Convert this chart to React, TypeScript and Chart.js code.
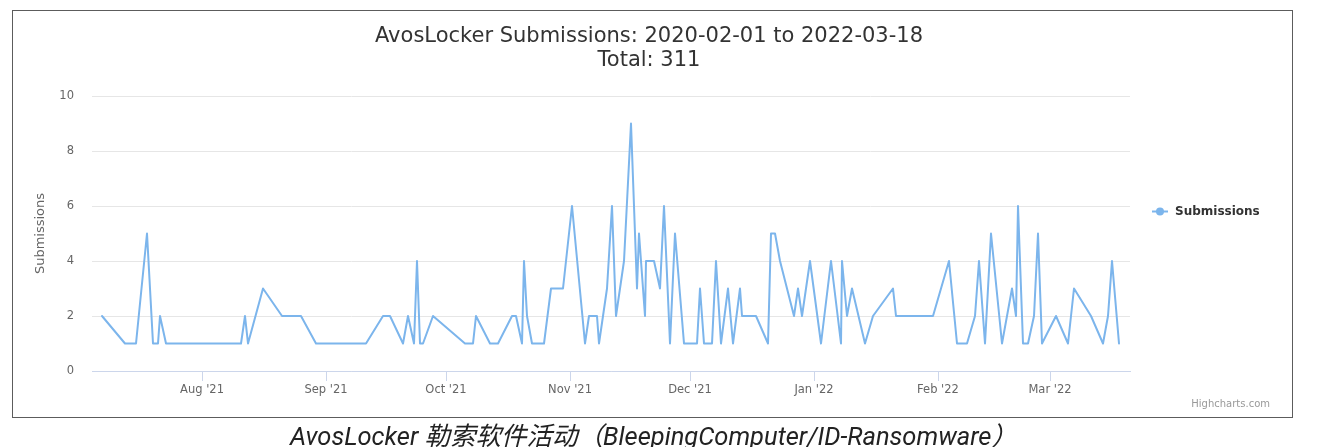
import { useEffect, useRef } from "react";
import { Chart, registerables } from "chart.js";

Chart.register(...registerables);

const TITLE_LINES = ["AvosLocker Submissions: 2020-02-01 to 2022-03-18", "Total: 311"];
const SERIES_NAME = "Submissions";
const Y_TITLE = "Submissions";
const CREDITS = "Highcharts.com";
const CAPTION = "AvosLocker 勒索软件活动（BleepingComputer/ID-Ransomware）";

// Submission timestamps (UTC, "YYYY-MM-DDTHH")
const dates = [
  "2021-07-07T00", "2021-07-12T18", "2021-07-15T12", "2021-07-18T06", "2021-07-19T18", "2021-07-21T00", "2021-07-21T12", "2021-07-23T00",
  "2021-08-10T18", "2021-08-11T18", "2021-08-12T12", "2021-08-16T06", "2021-08-21T00", "2021-08-25T18", "2021-08-29T12",
  "2021-09-11T00", "2021-09-15T06", "2021-09-17T00", "2021-09-20T06", "2021-09-21T12", "2021-09-23T00", "2021-09-23T18", "2021-09-24T12", "2021-09-25T06", "2021-09-27T18",
  "2021-10-05T18", "2021-10-07T18", "2021-10-08T12", "2021-10-12T00", "2021-10-14T00", "2021-10-17T12", "2021-10-18T12", "2021-10-20T00", "2021-10-20T12", "2021-10-21T06", "2021-10-22T12", "2021-10-25T12", "2021-10-27T06", "2021-10-30T06",
  "2021-11-01T12", "2021-11-04T18", "2021-11-05T18", "2021-11-07T18", "2021-11-08T06", "2021-11-10T06", "2021-11-11T12", "2021-11-12T12", "2021-11-14T12", "2021-11-16T06", "2021-11-17T18", "2021-11-18T06", "2021-11-19T18", "2021-11-20T00", "2021-11-22T00", "2021-11-23T12", "2021-11-24T12", "2021-11-26T00", "2021-11-27T06", "2021-11-29T12",
  "2021-12-02T18", "2021-12-03T12", "2021-12-04T12", "2021-12-06T12", "2021-12-07T12", "2021-12-08T18", "2021-12-10T12", "2021-12-11T18", "2021-12-13T12", "2021-12-14T00", "2021-12-17T12", "2021-12-20T12", "2021-12-21T06", "2021-12-22T06", "2021-12-23T12", "2021-12-27T00", "2021-12-28T00", "2021-12-29T00", "2021-12-31T00",
  "2022-01-02T18", "2022-01-05T06", "2022-01-07T18", "2022-01-08T00", "2022-01-09T06", "2022-01-10T12", "2022-01-13T18", "2022-01-15T18", "2022-01-20T18", "2022-01-21T12", "2022-01-30T18",
  "2022-02-03T18", "2022-02-05T18", "2022-02-08T06", "2022-02-10T06", "2022-02-11T06", "2022-02-12T18", "2022-02-14T06", "2022-02-17T00", "2022-02-19T12", "2022-02-20T12", "2022-02-21T00", "2022-02-22T06", "2022-02-23T12", "2022-02-25T00", "2022-02-26T00", "2022-02-27T00",
  "2022-03-02T12", "2022-03-05T12", "2022-03-07T00", "2022-03-11T06", "2022-03-14T06", "2022-03-15T12", "2022-03-16T12", "2022-03-18T06",
];

const submissions = [
  2, 1, 1, 5, 1, 1, 2, 1,
  1, 2, 1, 3, 2, 2, 1,
  1, 2, 2, 1, 2, 1, 4, 1, 1, 2,
  1, 1, 2, 1, 1, 2, 2, 1, 4, 2, 1, 1, 3, 3,
  6, 1, 2, 2, 1, 3, 6, 2, 4, 9, 3, 5, 2, 4, 4, 3, 6, 1, 5, 1,
  1, 3, 1, 1, 4, 1, 3, 1, 3, 2, 2, 1, 5, 5, 4, 2, 3, 2, 4,
  1, 4, 1, 4, 2, 3, 1, 2, 3, 2, 2,
  4, 1, 1, 2, 4, 1, 5, 1, 3, 2, 6, 1, 1, 2, 5, 1,
  2, 1, 3, 2, 1, 2, 4, 1,
];

const xTickMonths = ["2021-08-01T00", "2021-09-01T00", "2021-10-01T00", "2021-11-01T00", "2021-12-01T00", "2022-01-01T00", "2022-02-01T00", "2022-03-01T00"];
const MONTH_NAMES = ["Jan", "Feb", "Mar", "Apr", "May", "Jun", "Jul", "Aug", "Sep", "Oct", "Nov", "Dec"];
const X_MIN = "2021-07-04T12";
const X_MAX = "2022-03-21T00";
const yTicks = [0, 2, 4, 6, 8, 10];

const FONT = "'DejaVu Sans', sans-serif";

const toTime = (s: string) => Date.parse(s + ":00:00Z");
const fmtMonth = (v: number) => {
  const d = new Date(v);
  return MONTH_NAMES[d.getUTCMonth()] + " '" + String(d.getUTCFullYear()).slice(2);
};

const overlayPlugin = {
  id: "overlay",
  afterDraw(chart: any) {
    const { ctx, chartArea } = chart;
    ctx.save();
    // chart border box
    ctx.strokeStyle = "#5c5c5c";
    ctx.lineWidth = 1;
    ctx.strokeRect(12.5, 10.5, 1280, 407);

    // title
    ctx.fillStyle = "#333333";
    ctx.font = "21px " + FONT;
    ctx.textAlign = "center";
    ctx.textBaseline = "alphabetic";
    ctx.fillText(TITLE_LINES[0], 649, 42);
    ctx.fillText(TITLE_LINES[1], 649, 66);

    // legend
    const lx = chartArea.right + 22;
    const ly = 211.5;
    ctx.strokeStyle = "#7cb5ec";
    ctx.lineWidth = 2;
    ctx.beginPath();
    ctx.moveTo(lx, ly);
    ctx.lineTo(lx + 16, ly);
    ctx.stroke();
    ctx.fillStyle = "#7cb5ec";
    ctx.beginPath();
    ctx.arc(lx + 8, ly, 4, 0, Math.PI * 2);
    ctx.fill();
    ctx.fillStyle = "#333333";
    ctx.font = "bold 12px " + FONT;
    ctx.textAlign = "left";
    ctx.textBaseline = "middle";
    ctx.fillText(SERIES_NAME, lx + 23, ly + 0.5);

    // credits
    ctx.fillStyle = "#999999";
    ctx.font = "10px " + FONT;
    ctx.textAlign = "right";
    ctx.textBaseline = "alphabetic";
    ctx.fillText(CREDITS, 1270, 407);
    ctx.restore();
  },
};

export default function App() {
  const canvasRef = useRef<HTMLCanvasElement | null>(null);

  useEffect(() => {
    const canvas = canvasRef.current;
    if (!canvas) return;
    const chart = new Chart(canvas, {
      type: "line",
      data: {
        datasets: [
          {
            label: SERIES_NAME,
            data: dates.map((d, i) => ({ x: toTime(d), y: submissions[i] })),
            borderColor: "#7cb5ec",
            backgroundColor: "#7cb5ec",
            borderWidth: 2,
            pointRadius: 0,
            pointHoverRadius: 0,
            tension: 0,
            fill: false,
            borderJoinStyle: "round",
            borderCapStyle: "round",
          },
        ],
      },
      options: {
        responsive: false,
        animation: false,
        devicePixelRatio: 1,
        layout: { padding: { top: 96, left: 13, right: 191, bottom: 29 } },
        plugins: {
          legend: { display: false },
          title: { display: false },
          tooltip: { enabled: false },
        },
        scales: {
          x: {
            type: "linear",
            min: toTime(X_MIN),
            max: toTime(X_MAX),
            afterBuildTicks: (axis: any) => {
              axis.ticks = xTickMonths.map((m) => ({ value: toTime(m) }));
            },
            afterFit: (s: any) => {
              s.height = 47;
            },
            ticks: {
              autoSkip: false,
              maxRotation: 0,
              color: "#666666",
              font: { size: 11.5, family: FONT },
              padding: 2,
              callback: (v: any) => fmtMonth(Number(v)),
            },
            grid: { drawOnChartArea: false, drawTicks: true, tickLength: 10, color: "#ccd6eb", lineWidth: 1 },
            border: { display: true, color: "#ccd6eb", width: 1 },
          },
          y: {
            min: 0,
            max: 10,
            afterBuildTicks: (axis: any) => {
              axis.ticks = yTicks.map((v) => ({ value: v }));
            },
            afterFit: (s: any) => {
              s.width = 79;
            },
            ticks: { color: "#666666", font: { size: 11.5, family: FONT }, padding: 18 },
            grid: { color: "#e6e6e6", drawTicks: false, lineWidth: 1 },
            border: { display: false },
            title: {
              display: true,
              text: Y_TITLE,
              color: "#666666",
              font: { size: 13, family: FONT },
              padding: { top: 20, bottom: 0 },
            },
          },
        },
      },
      plugins: [overlayPlugin],
    });
    return () => chart.destroy();
  }, []);

  return (
    <div style={{ position: "fixed", left: 0, top: 0, width: 1321, height: 447, background: "#ffffff", overflow: "hidden" }}>
      <canvas ref={canvasRef} width={1321} height={447} style={{ display: "block", width: 1321, height: 447 }} />
      <div
        style={{
          position: "absolute",
          left: 7,
          top: 423,
          width: 1293,
          textAlign: "center",
          fontFamily: "Roboto, 'Noto Sans CJK SC', sans-serif",
          fontStyle: "italic",
          fontSize: 25.5,
          lineHeight: "26px",
          color: "#222222",
          whiteSpace: "nowrap",
        }}
      >
        {CAPTION}
      </div>
    </div>
  );
}
